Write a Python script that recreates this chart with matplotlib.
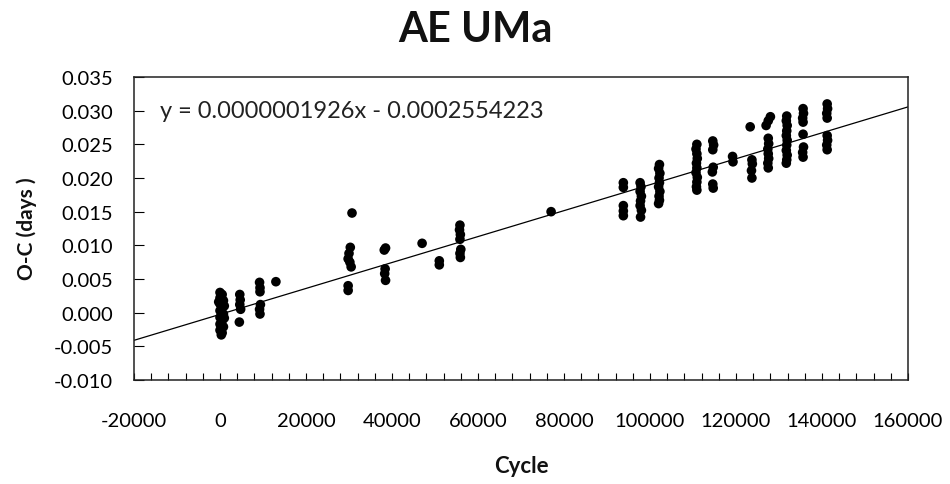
import matplotlib
matplotlib.use("Agg")
import matplotlib.pyplot as plt
from matplotlib.ticker import MultipleLocator, FormatStrFormatter

plt.rcParams['font.family'] = ['Lato', 'DejaVu Sans']
plt.rcParams['axes.unicode_minus'] = False

title = "AE UMa"
x_label = "Cycle"
y_label = "O-C (days )"
equation = "y = 0.0000001926x - 0.0002554223"
slope = 0.0000001926
intercept = -0.0002554223

cycle = [
    0, 500, 0, 800, 0, 500, 0, 800, 0, 500, 0, 800, 0, 500, 300, 1000, 1000, -300,
    4600, 4700, 4600, 4800, 4500,
    9200, 9300, 9300, 9400, 9200, 9300,
    13000,
    30700, 30300, 30000, 29800, 30200, 30500, 29800, 29800,
    38500, 38200, 38400, 38300, 38500,
    47000,
    51000, 51000,
    55800, 55700, 55900, 55800, 56000, 55800, 55900,
    77000,
    93800, 93800, 93800, 93800, 93800,
    97700, 97900, 97700, 98000, 97800, 97700, 98000, 97800,
    102200, 102000, 102300, 102100, 102200, 102000, 102300, 102100, 102200, 102000,
    110900, 110700, 110900, 111000, 110800, 110900, 110700, 111000, 110900, 110800, 110900,
    114600, 114800, 114600, 114700, 114500, 114600, 114700,
    119200, 119300,
    123300,
    123700, 123800, 123600, 123700,
    128000, 127500, 127000, 127500, 127600, 127400, 127500, 127600, 127400, 127500,
    131800, 131700, 131900, 131800, 131700, 131900, 131800, 131700, 131900, 131800, 131700,
    135600, 135700, 135500, 135600, 135600, 135700, 135500, 135600,
    141200, 141300, 141100, 141200, 141200, 141300, 141100, 141200,
]

oc_days = [
    0.0030, 0.0027, 0.0022, 0.0018, 0.0013, 0.0008, 0.0003, -0.0002, -0.0007, -0.0012,
    -0.0017, -0.0021, -0.0026, -0.0030, -0.0033, 0.0010, -0.0008, 0.0016,
    0.0027, 0.0019, 0.0012, 0.0005, -0.0014,
    0.0045, 0.0037, 0.0031, 0.0012, 0.0005, -0.0002,
    0.0046,
    0.0148, 0.0097, 0.0088, 0.0080, 0.0075, 0.0068, 0.0040, 0.0033,
    0.0096, 0.0093, 0.0065, 0.0058, 0.0048,
    0.0103,
    0.0077, 0.0071,
    0.0130, 0.0123, 0.0116, 0.0109, 0.0094, 0.0088, 0.0082,
    0.0150,
    0.0193, 0.0186, 0.0159, 0.0151, 0.0144,
    0.0193, 0.0187, 0.0180, 0.0173, 0.0166, 0.0159, 0.0152, 0.0142,
    0.0220, 0.0214, 0.0207, 0.0200, 0.0193, 0.0187, 0.0180, 0.0173, 0.0167, 0.0162,
    0.0250, 0.0243, 0.0236, 0.0229, 0.0222, 0.0215, 0.0208, 0.0201, 0.0194, 0.0187, 0.0182,
    0.0255, 0.0249, 0.0242, 0.0216, 0.0209, 0.0191, 0.0185,
    0.0232, 0.0224,
    0.0276,
    0.0227, 0.0221, 0.0211, 0.0200,
    0.0291, 0.0285, 0.0278, 0.0259, 0.0251, 0.0243, 0.0236, 0.0229, 0.0222, 0.0215,
    0.0292, 0.0285, 0.0278, 0.0270, 0.0263, 0.0256, 0.0249, 0.0241, 0.0234, 0.0227, 0.0222,
    0.0303, 0.0296, 0.0289, 0.0283, 0.0265, 0.0246, 0.0238, 0.0231,
    0.0310, 0.0303, 0.0296, 0.0289, 0.0263, 0.0256, 0.0249, 0.0242,
]

W, H = 950, 485
fig = plt.figure(figsize=(W / 100, H / 100), dpi=100)
L, R, T, B = 134, 908, 78, 381
ax = fig.add_axes([L / W, (H - B) / H, (R - L) / W, (B - T) / H])

ax.scatter(cycle, oc_days, s=48, color="black", edgecolors="none", zorder=3)
ax.axline((0, intercept), slope=slope, color="black", lw=0.9, zorder=2)

ax.set_xlim(-20000, 160000)
ax.set_ylim(-0.010, 0.035)
ax.xaxis.set_major_locator(MultipleLocator(20000))
ax.xaxis.set_minor_locator(MultipleLocator(4000))
ax.yaxis.set_major_locator(MultipleLocator(0.005))
ax.yaxis.set_major_formatter(FormatStrFormatter('%.3f'))

ax.tick_params(axis='x', which='both', direction='in', length=5, width=0.8,
               top=False, labelsize=14.5, pad=23)
ax.tick_params(axis='y', which='major', direction='in', length=7, width=0.8,
               right=False, labelsize=14.5, pad=15)
for s in ax.spines.values():
    s.set_color("#222222")
    s.set_linewidth(1.1)

ax.text(0.034, 0.891, equation, transform=ax.transAxes, ha='left', va='center',
        fontsize=17, color="#222222")

fig.text(0.5, 1 - 30 / H, title, ha='center', va='center', fontsize=30,
         fontweight='bold', color="#111111")
fig.text(((L + R) / 2) / W, 1 - 467 / H, x_label, ha='center', va='center',
         fontsize=16, fontweight='bold', color="#111111")
fig.text(27 / W, 1 - 229 / H, y_label, ha='center', va='center', rotation=90,
         fontsize=15, fontweight='bold', color="#111111")

fig.savefig("out.png", dpi=100)
